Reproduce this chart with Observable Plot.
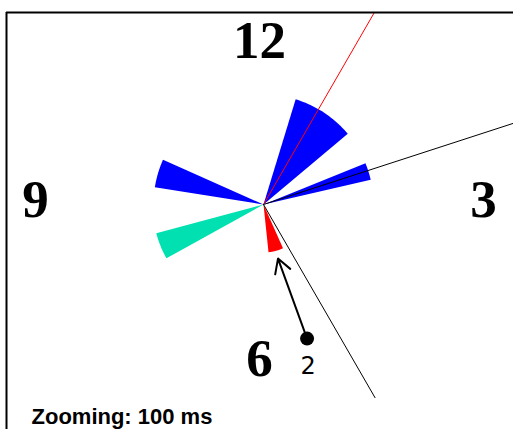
<!DOCTYPE html>
<html>
<head>
<meta charset="utf-8">
<script src="https://cdn.jsdelivr.net/npm/d3@7"></script>
<script src="https://cdn.jsdelivr.net/npm/@observablehq/plot@0.6"></script>
<style>
  html, body { margin: 0; padding: 0; background: #fff; }
  #chart svg { display: block; }
</style>
</head>
<body>
<div id="chart"></div>
<script>
// Wedges: clock angles in degrees (0 = 12 o'clock, clockwise) and radius
const wedgeStart  = [17, 68, 279, 241, 156];
const wedgeEnd    = [50, 77, 294, 255, 174];
const wedgeRadius = [110, 110, 110, 111, 48];
const wedgeGroup  = ["other", "other", "other", "previous", "current"];

// Direction lines: clock angle and length
const lineAngle  = [30, 72, 150];
const lineLength = [240, 300, 223];
const lineGroup  = ["current", "other", "other"];

// Clock face labels
const clockHours = [12, 3, 6, 9];
const faceRadiusX = 224, faceRadiusY = 159;

// Annotation: arrow from a labelled dot towards the current wedge
const noteLabel = "2";
const noteFromAngle = 162, noteFromRadius = 141;
const noteToAngle = 165, noteToRadius = 56;

const caption = "Zooming: 100 ms";

const rad = a => a * Math.PI / 180;
const px = (a, r) => r * Math.sin(rad(a));
const py = (a, r) => r * Math.cos(rad(a));

// Build wedge polygons
const wedgePts = [];
wedgeStart.forEach((a0, i) => {
  const a1 = wedgeEnd[i], r = wedgeRadius[i];
  wedgePts.push({id: i, group: wedgeGroup[i], x: 0, y: 0});
  const n = 24;
  for (let k = 0; k <= n; k++) {
    const a = a0 + (a1 - a0) * k / n;
    wedgePts.push({id: i, group: wedgeGroup[i], x: px(a, r), y: py(a, r)});
  }
  wedgePts.push({id: i, group: wedgeGroup[i], x: 0, y: 0});
});

const linePts = [];
lineAngle.forEach((a, i) => {
  linePts.push({id: i, group: lineGroup[i], x: 0, y: 0});
  linePts.push({id: i, group: lineGroup[i], x: px(a, lineLength[i]), y: py(a, lineLength[i])});
});

const hourData = clockHours.map(h => ({
  label: String(h),
  x: faceRadiusX * Math.sin(rad(h * 30)),
  y: faceRadiusY * Math.cos(rad(h * 30))
}));

const note = {
  label: noteLabel,
  x1: px(noteFromAngle, noteFromRadius), y1: py(noteFromAngle, noteFromRadius),
  x2: px(noteToAngle, noteToRadius), y2: py(noteToAngle, noteToRadius)
};

const xDomain = [-257, 250];
const yDomain = [-225, 192];

const chart = Plot.plot({
  width: 513,
  height: 429,
  marginLeft: 6,
  marginTop: 12,
  marginRight: 0,
  marginBottom: 0,
  x: {domain: xDomain, axis: null},
  y: {domain: yDomain, axis: null},
  color: {
    domain: ["other", "previous", "current"],
    range: ["#0000ff", "#00e0b0", "#ff0000"]
  },
  style: {background: "#fff", overflow: "visible"},
  marks: [
    Plot.line(wedgePts, {x: "x", y: "y", z: "id", fill: "group", stroke: "none", curve: "linear"}),
    Plot.line(linePts.filter(d => d.group === "current"), {x: "x", y: "y", z: "id", stroke: "#ff0000", strokeWidth: 1, clip: true}),
    Plot.line(linePts.filter(d => d.group === "other"), {x: "x", y: "y", z: "id", stroke: "#000", strokeWidth: 1, clip: true}),
    Plot.text(hourData, {
      x: "x", y: "y", text: "label", dx: -4, dy: -4,
      fontFamily: "Liberation Serif", fontWeight: "bold", fontSize: 53, fill: "#000",
      textAnchor: "middle", lineAnchor: "middle"
    }),
    Plot.arrow([note], {x1: "x1", y1: "y1", x2: "x2", y2: "y2", stroke: "#000", strokeWidth: 2, headLength: 12}),
    Plot.dot([note], {x: "x1", y: "y1", r: 7, fill: "#000", stroke: "none"}),
    Plot.text([note], {
      x: "x1", y: "y1", text: "label", dy: 28, dx: 1,
      fontFamily: "DejaVu Sans", fontSize: 24, fill: "#000"
    }),
    Plot.text([caption], {
      frameAnchor: "bottom-left", textAnchor: "start", lineAnchor: "bottom",
      dx: 25, dy: -6, fontFamily: "Liberation Sans", fontWeight: "bold", fontSize: 22, fill: "#000"
    }),
    Plot.ruleX([xDomain[0]], {stroke: "#000", strokeWidth: 2}),
    Plot.ruleY([yDomain[1]], {stroke: "#000", strokeWidth: 2})
  ]
});
document.getElementById("chart").appendChild(chart);
</script>
</body>
</html>
